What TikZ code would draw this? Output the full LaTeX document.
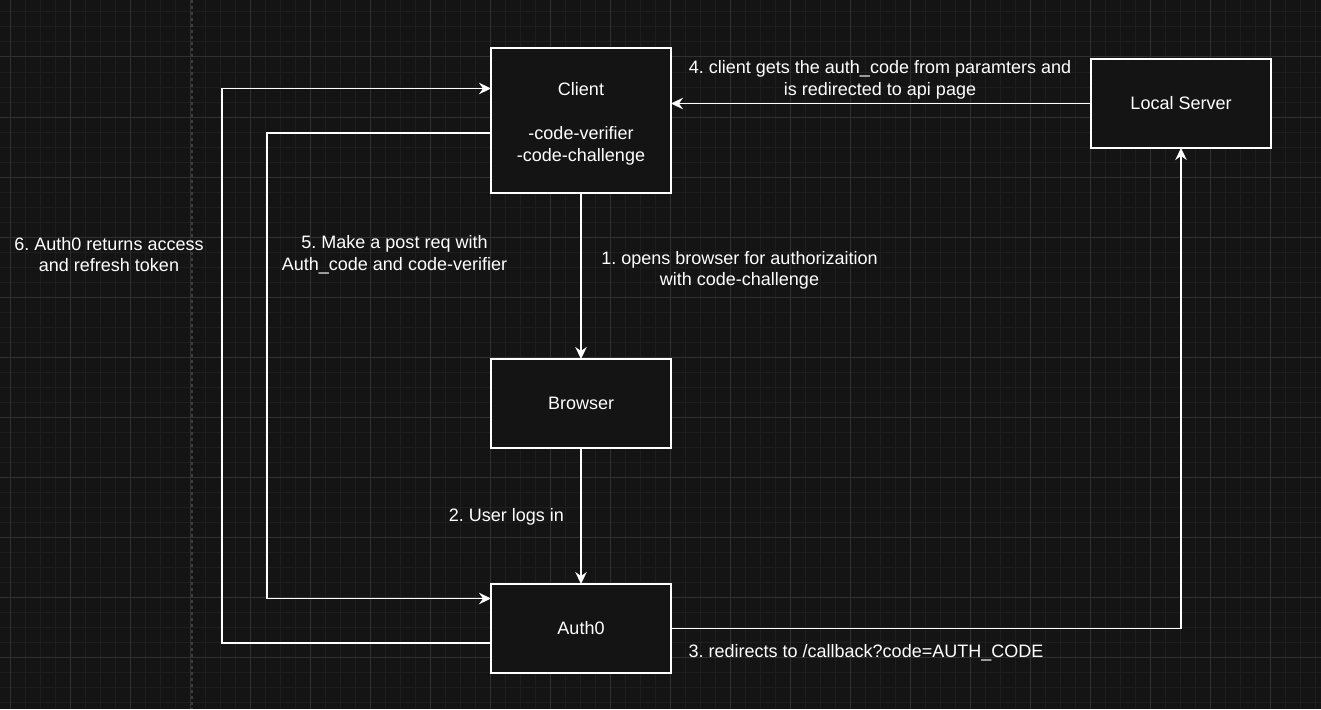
\documentclass[tikz,border=0pt]{standalone}
\usepackage{fontspec}
\setmainfont{Liberation Sans}
\usetikzlibrary{arrows.meta}
\frenchspacing
\definecolor{bgc}{HTML}{141414}
\definecolor{minorc}{HTML}{1E1E1E}
\definecolor{majorc}{HTML}{303030}
\definecolor{dashc}{HTML}{3C3C3C}
\tikzset{
  box/.style={draw=white, line width=1.5pt, fill=bgc, rectangle, inner sep=0pt, outer sep=0pt,
    minimum width=180pt, text=white, align=center, font=\fontsize{18}{21.6}\selectfont\frenchspacing},
  lbl/.style={text=white, align=center, inner sep=0pt, font=\fontsize{18}{21.6}\selectfont\frenchspacing},
  conn/.style={draw=white, line width=1.5pt, -{Stealth[length=12pt,width=11.5pt,inset=4pt]}},
  minorline/.style={draw=minorc, line width=1pt},
  majorline/.style={draw=majorc, line width=1pt}
}
\begin{document}
\begin{tikzpicture}[x=1pt,y=-1pt]
  % background and grid
  \fill[bgc] (0,0) rectangle (1321,709);
  \useasboundingbox (0,0) rectangle (1321,709);
  \foreach \gx in {10,25,...,1320} \draw[minorline] (\gx,0) -- (\gx,709);
  \foreach \gy in {12,27,...,708} \draw[minorline] (0,\gy) -- (1321,\gy);
  \foreach \gx in {10,70,...,1320} \draw[majorline] (\gx,0) -- (\gx,709);
  \foreach \gy in {57,117,...,708} \draw[majorline] (0,\gy) -- (1321,\gy);
  \draw[dashc, line width=2pt, dash pattern=on 3pt off 3pt] (191.5,0) -- (191.5,709);

  % nodes
  \node[box, minimum height=145pt] (client) at (581,120.5) {\rule{0pt}{19.5pt}Client\\[1.5pt] \mbox{}\\ -code-verifier\\ -code-challenge};
  \node[box, minimum height=89pt] (browser) at (581,403.5) {Browser};
  \node[box, minimum height=89pt] (auth) at (581,628.5) {Auth0};
  \node[box, minimum height=89pt] (server) at (1181,103.5) {Local Server};

  % bend points
  \coordinate (b5a) at (267,133);
  \coordinate (b5b) at (267,598.5);
  \coordinate (b6a) at (222,643);
  \coordinate (b6b) at (222,88.5);

  % connectors
  \draw[conn] (client.south) -- (browser.north);
  \draw[conn] (browser.south) -- (auth.north);
  \draw[conn] (auth.east) -| (server.south);
  \draw[conn] (server.west) -- (client.east |- server.west);
  \draw[conn] (client.west |- b5a) -- (b5a) -- (b5b) -- (auth.west |- b5b);
  \draw[conn] (auth.west |- b6a) -- (b6a) -- (b6b) -- (client.west |- b6b);

  % labels
  \node[lbl] (l1) at (739.5,270.5) {1. opens browser for authorizaition\\with code-challenge};
  \node[lbl] (l2) at (506.5,516.5) {2. User logs in};
  \node[lbl] (l3) at (866,652.5) {3. redirects to /callback?code=AUTH\_CODE};
  \node[lbl] (l4) at (880,80) {4. client gets the auth\_code from paramters and\\is redirected to api page};
  \node[lbl] (l5) at (394.5,254.5) {5. Make a post req with\\Auth\_code and code-verifier};
  \node[lbl] (l6) at (109,254.5) {6. Auth0 returns access\\and refresh token};
\end{tikzpicture}
\end{document}
